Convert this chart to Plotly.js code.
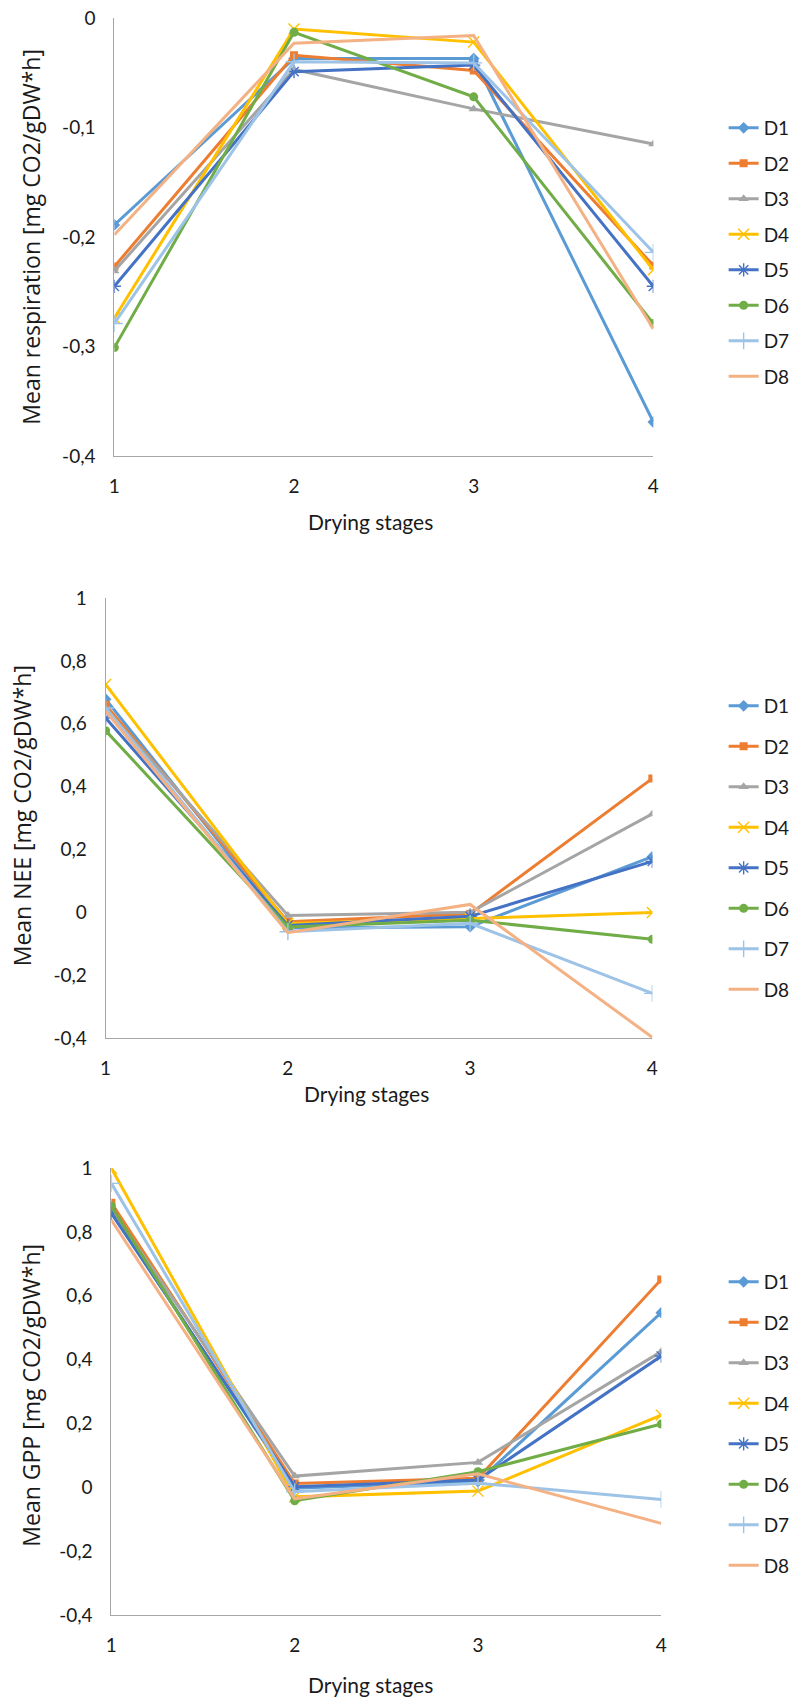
<!DOCTYPE html>
<html>
<head>
<meta charset="utf-8">
<script src="https://cdn.plot.ly/plotly-3.0.1.min.js"></script>
<style>
  html, body { margin: 0; padding: 0; background: #ffffff; }
  #chart { width: 795px; height: 1698px; }
</style>
</head>
<body>
<div id="chart"></div>
<script>
// ---- Data ----
const stages = [1, 2, 3, 4];
const stageLabels = ['1', '2', '3', '4'];
const seriesNames = ['D1', 'D2', 'D3', 'D4', 'D5', 'D6', 'D7', 'D8'];

// Mean respiration [mg CO2/gDW*h]
const respD1 = [-0.189, -0.037, -0.037, -0.369];
const respD2 = [-0.227, -0.034, -0.048, -0.226];
const respD3 = [-0.231, -0.047, -0.083, -0.115];
const respD4 = [-0.274, -0.010, -0.022, -0.230];
const respD5 = [-0.245, -0.049, -0.043, -0.245];
const respD6 = [-0.301, -0.013, -0.072, -0.279];
const respD7 = [-0.279, -0.040, -0.041, -0.214];
const respD8 = [-0.198, -0.023, -0.016, -0.284];

// Mean NEE [mg CO2/gDW*h]
const neeD1 = [0.678, -0.050, -0.046, 0.177];
const neeD2 = [0.660, -0.030, -0.005, 0.426];
const neeD3 = [0.648, -0.010, 0.000, 0.313];
const neeD4 = [0.725, -0.036, -0.020, -0.001];
const neeD5 = [0.618, -0.042, -0.013, 0.162];
const neeD6 = [0.578, -0.047, -0.025, -0.086];
const neeD7 = [0.650, -0.062, -0.035, -0.258];
const neeD8 = [0.640, -0.065, 0.025, -0.398];

// Mean GPP [mg CO2/gDW*h]
const gppD1 = [0.863, -0.003, 0.018, 0.547];
const gppD2 = [0.891, 0.012, 0.028, 0.651];
const gppD3 = [0.872, 0.035, 0.078, 0.425];
const gppD4 = [0.999, -0.030, -0.012, 0.226];
const gppD5 = [0.858, 0.002, 0.023, 0.411];
const gppD6 = [0.881, -0.042, 0.049, 0.198];
const gppD7 = [0.952, -0.014, 0.013, -0.038];
const gppD8 = [0.837, -0.036, 0.042, -0.113];

// Tick labels
const respTickVals = [0, -0.1, -0.2, -0.3, -0.4];
const respTickText = ['0', '-0,1', '-0,2', '-0,3', '-0,4'];
const fluxTickVals = [1, 0.8, 0.6, 0.4, 0.2, 0, -0.2, -0.4];
const fluxTickText = ['1', '0,8', '0,6', '0,4', '0,2', '0', '-0,2', '-0,4'];

// Titles
const yTitles = ['Mean respiration [mg CO2/gDW*h]', 'Mean NEE [mg CO2/gDW*h]', 'Mean GPP [mg CO2/gDW*h]'];
const xTitle = 'Drying stages';

// ---- Styles ----
const colors = ['#5B9BD5', '#ED7D31', '#A5A5A5', '#FFC000', '#4472C4', '#70AD47', '#9DC3E6', '#F4B183'];
const symbols = ['diamond', 'square', 'triangle-up', 'x-thin-open', 'asterisk-open', 'circle', 'cross-thin-open', 'circle'];
const sizes = [9, 8, 9, 11, 11, 9, 12, 0];

const W = 795, H = 1698;
const px = v => v / W;
const py = v => 1 - v / H;

const panels = [
  { data: [respD1, respD2, respD3, respD4, respD5, respD6, respD7, respD8], xa: 'x', ya: 'y', leg: 'legend' },
  { data: [neeD1, neeD2, neeD3, neeD4, neeD5, neeD6, neeD7, neeD8], xa: 'x2', ya: 'y2', leg: 'legend2' },
  { data: [gppD1, gppD2, gppD3, gppD4, gppD5, gppD6, gppD7, gppD8], xa: 'x3', ya: 'y3', leg: 'legend3' }
];

const traces = [];
panels.forEach((p, pi) => {
  p.data.forEach((vals, i) => {
    const thin = (symbols[i].indexOf('open') >= 0);
    traces.push({
      type: 'scatter',
      mode: i === 7 ? 'lines' : 'lines+markers',
      x: stages,
      y: vals,
      name: seriesNames[i],
      xaxis: p.xa,
      yaxis: p.ya,
      legend: p.leg,
      legendgroup: 'p' + pi + seriesNames[i],
      line: { color: colors[i], width: 3 },
      marker: {
        symbol: symbols[i],
        size: sizes[i],
        color: colors[i],
        line: { color: colors[i], width: thin ? 1.4 : 0 }
      },
      hoverinfo: 'x+y+name'
    });
  });
});

const tickFont = { family: 'Lato, sans-serif', size: 19, color: '#1a1a1a' };
function xAxis(domain, anchor) {
  return {
    domain: domain, anchor: anchor, range: [1, 4],
    tickvals: stages, ticktext: stageLabels,
    showgrid: false, zeroline: false, showline: true,
    linecolor: '#A6A6A6', linewidth: 1,
    ticks: '', ticklabelstandoff: 13,
    tickfont: tickFont, automargin: false, fixedrange: true
  };
}
function yAxis(domain, anchor, range, tv, tt) {
  return {
    domain: domain, anchor: anchor, range: range,
    tickvals: tv, ticktext: tt,
    showgrid: false, zeroline: false, showline: true,
    linecolor: '#A6A6A6', linewidth: 1,
    ticks: '', ticklabelstandoff: 14,
    tickfont: tickFont, automargin: false, fixedrange: true
  };
}

function legendCfg(topPx, gap) {
  return {
    x: px(731), xanchor: 'left', y: py(topPx), yanchor: 'top',
    font: { family: 'Lato, sans-serif', size: 19, color: '#1a1a1a' },
    traceorder: 'grouped', tracegroupgap: gap,
    bgcolor: 'rgba(0,0,0,0)', borderwidth: 0, itemwidth: 30
  };
}

const yTitleFont = { family: 'Open Sans, sans-serif', size: 23, color: '#1a1a1a' };
const xTitleFont = { family: 'Lato, sans-serif', size: 21, color: '#1a1a1a' };

const annotations = [
  { text: yTitles[0], x: px(31), y: py(237) },
  { text: yTitles[1], x: px(22.5), y: py(816) },
  { text: yTitles[2], x: px(31), y: py(1395) }
].map(a => Object.assign(a, {
  xref: 'paper', yref: 'paper', xanchor: 'center', yanchor: 'middle',
  textangle: -90, showarrow: false, font: yTitleFont
})).concat([
  { text: xTitle, x: px(374), y: py(522) },
  { text: xTitle, x: px(370), y: py(1093) },
  { text: xTitle, x: px(374), y: py(1684) }
].map(a => Object.assign(a, {
  xref: 'paper', yref: 'paper', xanchor: 'center', yanchor: 'middle',
  showarrow: false, font: xTitleFont
})));

const layout = {
  width: W, height: H,
  margin: { l: 0, r: 0, t: 0, b: 0 },
  paper_bgcolor: '#ffffff', plot_bgcolor: 'rgba(0,0,0,0)',
  showlegend: true,
  xaxis: xAxis([px(115.5), px(660)], 'y'),
  yaxis: yAxis([py(456), py(18)], 'x', [-0.4, 0], respTickVals, respTickText),
  xaxis2: xAxis([px(106.7), px(659)], 'y2'),
  yaxis2: yAxis([py(1038), py(598)], 'x2', [-0.4, 1], fluxTickVals, fluxTickText),
  xaxis3: xAxis([px(112.5), px(668)], 'y3'),
  yaxis3: yAxis([py(1615), py(1168)], 'x3', [-0.4, 1], fluxTickVals, fluxTickText),
  legend: legendCfg(109, 7.8),
  legend2: legendCfg(687, 12.8),
  legend3: legendCfg(1263, 12.8),
  annotations: annotations
};

Plotly.newPlot('chart', traces, layout, { displayModeBar: false, staticPlot: true });
</script>
</body>
</html>
